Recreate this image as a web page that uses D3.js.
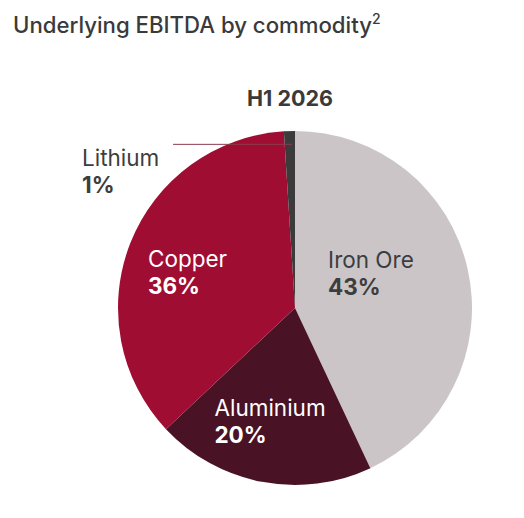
<!DOCTYPE html>
<html>
<head>
<meta charset="utf-8">
<script src="https://cdn.jsdelivr.net/npm/d3@7"></script>
<style>
  html, body { margin: 0; padding: 0; background: #fff; }
  svg text { font-family: Inter, "Open Sans", sans-serif; }
</style>
</head>
<body>
<div id="chart"></div>
<script>
// data
var commodities = ["Iron Ore", "Aluminium", "Copper", "Lithium"];
var shares = [43, 20, 36, 1];
var period = "H1 2026";

var width = 524, height = 518;
var cx = 295, cy = 308, radius = 177;

// label nudges from the arc centroid (px)
var labelNudge = [[-74, -2], [-60, 14], [-45, 13]];

var color = d3.scaleOrdinal()
    .domain(commodities)
    .range(["#cbc5c7", "#4a1325", "#a00d32", "#3b3b3b"]);
var labelColor = d3.scaleOrdinal()
    .domain(commodities)
    .range(["#3d3d3d", "#ffffff", "#ffffff", "#3d3d3d"]);

var svg = d3.select("#chart").append("svg")
    .attr("width", width)
    .attr("height", height);

// title
var title = svg.append("text")
    .attr("x", 13)
    .attr("y", 33)
    .attr("fill", "#3a3a3a")
    .style("font-size", "22.2px")
    .style("font-weight", 500);
title.append("tspan").text("Underlying EBITDA by commodity");
title.append("tspan").attr("dy", -9).style("font-size", "14px").text("2");

svg.append("text")
    .attr("x", cx - 5)
    .attr("y", 106)
    .attr("text-anchor", "middle")
    .attr("fill", "#3a3a3a")
    .style("font-size", "21.5px")
    .style("font-weight", 700)
    .text(period);

var data = commodities.map(function(c, i) { return {name: c, value: shares[i]}; });

var pie = d3.pie()
    .sort(null)
    .value(function(d) { return d.value; });

var arc = d3.arc().innerRadius(0).outerRadius(radius);
var labelArc = d3.arc().innerRadius(radius * 0.62).outerRadius(radius * 0.62);
var leaderArc = d3.arc().innerRadius(radius * 0.925).outerRadius(radius * 0.925);

var g = svg.append("g")
    .attr("transform", "translate(" + cx + "," + cy + ")");

var arcs = pie(data);

g.selectAll("path.slice")
    .data(arcs)
    .enter().append("path")
    .attr("class", "slice")
    .attr("d", arc)
    .attr("fill", function(d) { return color(d.data.name); });

// inner labels for the big slices
arcs.slice(0, 3).forEach(function(d, i) {
    var c = labelArc.centroid(d);
    var x = c[0] + labelNudge[i][0], y = c[1] + labelNudge[i][1];
    var t = g.append("text")
        .attr("fill", labelColor(d.data.name))
        .style("font-size", "22.5px");
    t.append("tspan").attr("x", x).attr("y", y - 14).text(d.data.name);
    t.append("tspan").attr("x", x).attr("y", y + 13)
        .style("font-weight", 700)
        .text(d.data.value + "%");
});

// lithium: outside label with a leader line
var li = arcs[3];
var p = leaderArc.centroid(li);
g.append("line")
    .attr("x1", p[0] + 2)
    .attr("y1", p[1])
    .attr("x2", -radius * 0.689)
    .attr("y2", p[1])
    .attr("stroke", "#8c3a4e")
    .attr("stroke-width", 1);

var lt = g.append("text")
    .attr("fill", labelColor(li.data.name))
    .style("font-size", "22.5px");
lt.append("tspan").attr("x", -213).attr("y", p[1] + 22).text(li.data.name);
lt.append("tspan").attr("x", -213).attr("y", p[1] + 49)
    .style("font-weight", 700)
    .text(li.data.value + "%");
</script>
</body>
</html>
